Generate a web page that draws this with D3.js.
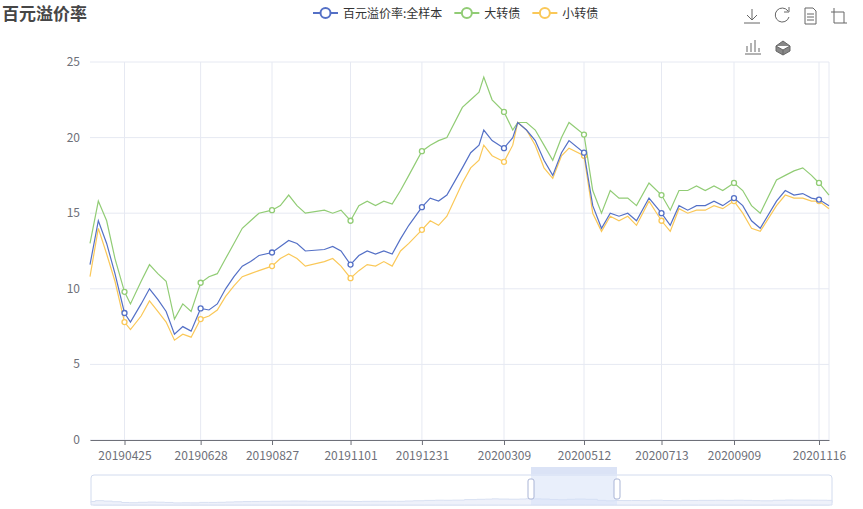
<!DOCTYPE html><html><head><meta charset="utf-8"><script src="https://cdn.jsdelivr.net/npm/d3@7"></script>
<style>body{margin:0;background:#fff}svg{font-family:"Microsoft YaHei","Noto Sans CJK SC",sans-serif}</style></head><body><svg id="c" width="863" height="509"></svg>
<script>
const dates=["20190327","20190403","20190410","20190417","20190425","20190430","20190509","20190516","20190523","20190530","20190606","20190613","20190620","20190628","20190705","20190712","20190719","20190726","20190802","20190809","20190816","20190827","20190903","20190910","20190917","20190924","20191010","20191017","20191024","20191101","20191108","20191115","20191122","20191129","20191206","20191213","20191220","20191231","20200107","20200114","20200121","20200203","20200210","20200217","20200221","20200228","20200309","20200316","20200320","20200327","20200403","20200410","20200417","20200424","20200430","20200512","20200519","20200526","20200602","20200609","20200616","20200623","20200703","20200713","20200720","20200727","20200803","20200810","20200817","20200824","20200831","20200909","20200916","20200923","20200930","20201013","20201020","20201027","20201103","20201110","20201116","20201124"];
const allSample=[11.6,14.5,13.0,11.0,8.4,7.8,9.0,10.0,9.3,8.5,7.0,7.5,7.2,8.7,8.6,9.0,10.0,10.8,11.5,11.8,12.2,12.4,12.8,13.2,13.0,12.5,12.6,12.8,12.5,11.6,12.2,12.5,12.3,12.5,12.3,13.3,14.2,15.4,16.0,15.8,16.2,18.0,19.0,19.5,20.5,19.8,19.3,20.0,21.0,20.5,19.8,18.5,17.5,19.0,19.8,19.0,15.5,14.0,15.0,14.8,15.0,14.5,16.0,15.0,14.2,15.5,15.2,15.5,15.5,15.8,15.5,16.0,15.5,14.5,14.0,15.8,16.5,16.2,16.3,16.0,15.9,15.5];
const bigBond=[13.0,15.8,14.5,12.0,9.8,9.0,10.5,11.6,11.0,10.5,8.0,9.0,8.5,10.4,10.8,11.0,12.0,13.0,14.0,14.5,15.0,15.2,15.5,16.2,15.5,15.0,15.2,15.0,15.2,14.5,15.5,15.8,15.5,15.8,15.6,16.5,17.5,19.1,19.5,19.8,20.0,22.0,22.5,23.0,24.0,22.5,21.7,20.5,21.0,21.0,20.5,19.5,18.5,20.0,21.0,20.2,16.5,15.0,16.5,16.0,16.0,15.5,17.0,16.2,15.2,16.5,16.5,16.8,16.5,16.8,16.5,17.0,16.5,15.5,15.0,17.2,17.5,17.8,18.0,17.5,17.0,16.2];
const smallBond=[10.8,14.0,12.3,10.5,7.8,7.3,8.2,9.2,8.5,7.8,6.6,7.0,6.8,8.0,8.2,8.6,9.5,10.2,10.8,11.0,11.2,11.5,12.0,12.3,12.0,11.5,11.8,12.0,11.5,10.7,11.2,11.6,11.5,11.8,11.5,12.5,13.0,13.9,14.5,14.2,14.8,17.0,18.0,18.5,19.5,18.8,18.4,19.5,21.0,20.5,19.5,18.0,17.3,18.8,19.3,18.8,15.0,13.8,14.8,14.5,14.8,14.2,15.8,14.5,13.8,15.3,15.0,15.2,15.2,15.5,15.3,15.8,15.0,14.0,13.8,15.5,16.2,16.0,16.0,15.8,15.8,15.3];
const tickDates=["20190425","20190628","20190827","20191101","20191231","20200309","20200512","20200713","20200909","20201116"];
const yTicks=[0,5,10,15,20,25];
const names=["百元溢价率:全样本","大转债","小转债"];
const colors=["#5470c6","#91cc75","#fac858"];
const series=[allSample,bigBond,smallBond];

const svg=d3.select("#c"),P=d3.timeParse("%Y%m%d");
const x=d3.scaleTime().domain([P("20190327"),P("20200309"),P("20201124")]).range([90,504,829]);
const y=d3.scaleLinear().domain([0,25]).range([440,62]);
const g=svg.append("g");
g.selectAll(".vg").data(tickDates).join("line").attr("x1",d=>x(P(d))).attr("x2",d=>x(P(d))).attr("y1",62).attr("y2",440).attr("stroke","#e6e9f2");
g.selectAll(".hg").data(yTicks).join("line").attr("x1",90).attr("x2",829).attr("y1",d=>y(d)).attr("y2",d=>y(d)).attr("stroke","#e6e9f2");
g.append("line").attr("x1",829).attr("x2",829).attr("y1",62).attr("y2",440).attr("stroke","#e6e9f2");
g.selectAll(".yl").data(yTicks).join("text").attr("x",80).attr("y",d=>y(d)+4).attr("text-anchor","end").attr("font-size",12).attr("fill","#6e7079").text(d=>d);
const xa=svg.append("g").attr("transform","translate(0,440)").call(d3.axisBottom(x).tickValues(tickDates.map(P)).tickFormat(d3.timeFormat("%Y%m%d")).tickSize(5).tickSizeOuter(0));
xa.select(".domain").attr("stroke","#6e7079");xa.selectAll("line").attr("stroke","#6e7079");
xa.selectAll("text").attr("font-size",12).attr("fill","#6e7079").attr("dy","1em").attr("font-family","Microsoft YaHei,Noto Sans CJK SC,sans-serif");
const line=d3.line().x((d,i)=>x(P(dates[i]))).y(d=>y(d));
[1,2,0].forEach(k=>{
 svg.append("path").attr("d",line(series[k])).attr("fill","none").attr("stroke",colors[k]).attr("stroke-width",1.2);
 const pts=dates.map((d,i)=>[d,series[k][i]]).filter(p=>tickDates.includes(p[0]));
 svg.selectAll(null).data(pts).join("circle").attr("cx",p=>x(P(p[0]))).attr("cy",p=>y(p[1])).attr("r",2.5).attr("fill","#fff").attr("stroke",colors[k]).attr("stroke-width",1.3);
});
svg.append("text").attr("x",2).attr("y",20).attr("font-size",17).attr("font-weight","bold").attr("fill","#464646").text("百元溢价率");
let lx=313;
names.forEach((n,i)=>{
 svg.append("line").attr("x1",lx).attr("x2",lx+25).attr("y1",13).attr("y2",13).attr("stroke",colors[i]).attr("stroke-width",2);
 svg.append("circle").attr("cx",lx+12.5).attr("cy",13).attr("r",5).attr("fill","#fff").attr("stroke",colors[i]).attr("stroke-width",2);
 const t=svg.append("text").attr("x",lx+30).attr("y",17.5).attr("font-size",12).attr("fill","#333").text(n);
 lx+=30+t.node().getComputedTextLength()+12;
});
const tb=svg.append("g").attr("stroke","#666").attr("fill","none").attr("stroke-width",1);
tb.append("path").attr("d","M752 9v11M747 15l5 5 5-5M744 23h16");
tb.append("path").attr("d","M788 11a7 7 0 1 0 1 6M789 7v5h-5");
tb.append("path").attr("d","M805 8h8l3 3v13h-11zM807 14h7M807 17h7M807 20h7");
tb.append("path").attr("d","M834 8v15h13M831 12h13v11");
tb.append("path").attr("d","M745 54h16M747 52v-6M751 52v-9M755 52v-12M759 52v-4");
tb.append("path").attr("d","M776 46l7-5 7 5v5l-7 4-7-4z M776 46l7 4 7-4M783 50v5").attr("fill","#888").attr("stroke","#666");
const dz=svg.append("g");
dz.append("rect").attr("x",91).attr("y",475).attr("width",741).attr("height",30).attr("rx",3).attr("fill","#fff").attr("stroke","#d2dbee");
const xs=d3.scaleTime().domain([P("20190327"),P("20201124")]).range([91,832]);
const ys=d3.scaleLinear().domain([0,100]).range([505,475]);
dz.append("path").attr("d",d3.area().x((d,i)=>xs(P(dates[i]))).y0(505).y1(d=>ys(d)).curve(d3.curveStep)(allSample)).attr("fill","#eef1fa").attr("stroke","#d8e0f2");
dz.append("rect").attr("x",531).attr("y",467).attr("width",86).attr("height",38).attr("fill","#d4dff7").attr("opacity",0.5);
dz.append("rect").attr("x",531).attr("y",467).attr("width",86).attr("height",7).attr("fill","#dbe3f6");
[531,617].forEach(h=>dz.append("rect").attr("x",h-3).attr("y",479).attr("width",6).attr("height",20).attr("rx",2).attr("fill","#fff").attr("stroke","#aab5d6"));
</script></body></html>
